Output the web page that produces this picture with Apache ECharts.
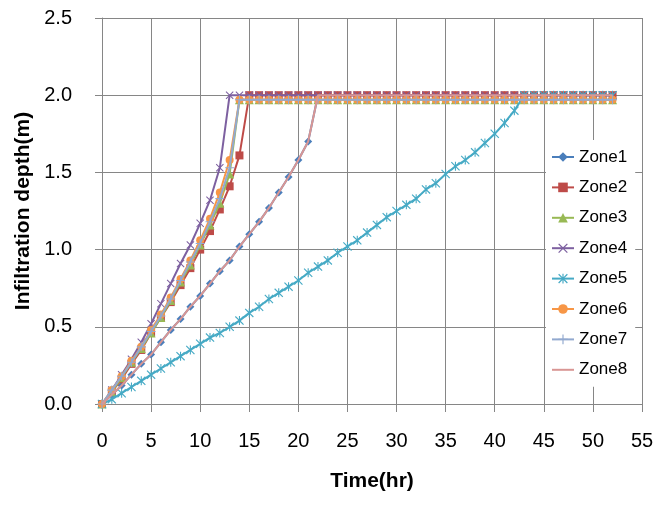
<!DOCTYPE html>
<html>
<head>
<meta charset="utf-8">
<script src="https://cdn.jsdelivr.net/npm/echarts@6/dist/echarts.min.js"></script>
<style>
html,body{margin:0;padding:0;background:#fff;}
#chart{width:671px;height:505px;}
</style>
</head>
<body>
<div id="chart"></div>
<script>
// Time (hr)
var time = [0,1,2,3,4,5,6,7,8,9,10,11,12,13,14,15,16,17,18,19,20,21,22,23,24,25,26,27,28,29,30,31,32,33,34,35,36,37,38,39,40,41,42,43,44,45,46,47,48,49,50,51,52];

var zoneNames = ['Zone1','Zone2','Zone3','Zone4','Zone5','Zone6','Zone7','Zone8'];

var zone1 = [0,0.06,0.12,0.19,0.26,0.32,0.40,0.48,0.55,0.63,0.70,0.78,0.86,0.93,1.02,1.10,1.18,1.27,1.37,1.47,1.58,1.70,2.0,2.0,2.0,2.0,2.0,2.0,2.0,2.0,2.0,2.0,2.0,2.0,2.0,2.0,2.0,2.0,2.0,2.0,2.0,2.0,2.0,2.0,2.0,2.0,2.0,2.0,2.0,2.0,2.0,2.0,2.0];
var zone2 = [0,0.08,0.16,0.26,0.35,0.46,0.56,0.66,0.77,0.88,1.00,1.12,1.26,1.41,1.61,2.0,2.0,2.0,2.0,2.0,2.0,2.0,2.0,2.0,2.0,2.0,2.0,2.0,2.0,2.0,2.0,2.0,2.0,2.0,2.0,2.0,2.0,2.0,2.0,2.0,2.0,2.0,2.0,2.0,2.0,2.0,2.0,2.0,2.0,2.0,2.0,2.0,2.0];
var zone3 = [0,0.08,0.17,0.27,0.36,0.46,0.56,0.67,0.79,0.90,1.03,1.16,1.30,1.49,1.97,1.97,1.97,1.97,1.97,1.97,1.97,1.97,1.97,1.97,1.97,1.97,1.97,1.97,1.97,1.97,1.97,1.97,1.97,1.97,1.97,1.97,1.97,1.97,1.97,1.97,1.97,1.97,1.97,1.97,1.97,1.97,1.97,1.97,1.97,1.97,1.97,1.97,1.97];
var zone4 = [0,0.09,0.19,0.29,0.40,0.52,0.65,0.78,0.91,1.03,1.17,1.32,1.53,2.0,2.0,2.0,2.0,2.0,2.0,2.0,2.0,2.0,2.0,2.0,2.0,2.0,2.0,2.0,2.0,2.0,2.0,2.0,2.0,2.0,2.0,2.0,2.0,2.0,2.0,2.0,2.0,2.0,2.0,2.0,2.0,2.0,2.0,2.0,2.0,2.0,2.0,2.0,2.0];
var zone5 = [0,0.03,0.07,0.11,0.15,0.19,0.23,0.27,0.31,0.35,0.39,0.43,0.46,0.50,0.54,0.59,0.63,0.68,0.72,0.76,0.80,0.85,0.89,0.93,0.98,1.02,1.06,1.11,1.16,1.21,1.25,1.29,1.33,1.39,1.43,1.49,1.54,1.58,1.63,1.69,1.75,1.82,1.90,2.0,2.0,2.0,2.0,2.0,2.0,2.0,2.0,2.0,2.0];
var zone6 = [0,0.09,0.18,0.28,0.37,0.48,0.58,0.69,0.81,0.93,1.06,1.20,1.37,1.58,1.97,1.97,1.97,1.97,1.97,1.97,1.97,1.97,1.97,1.97,1.97,1.97,1.97,1.97,1.97,1.97,1.97,1.97,1.97,1.97,1.97,1.97,1.97,1.97,1.97,1.97,1.97,1.97,1.97,1.97,1.97,1.97,1.97,1.97,1.97,1.97,1.97,1.97,1.97];
var zone7 = [0,0.09,0.18,0.27,0.37,0.47,0.57,0.68,0.80,0.92,1.04,1.18,1.33,1.53,1.97,1.97,1.97,1.97,1.97,1.97,1.97,1.97,1.97,1.97,1.97,1.97,1.97,1.97,1.97,1.97,1.97,1.97,1.97,1.97,1.97,1.97,1.97,1.97,1.97,1.97,1.97,1.97,1.97,1.97,1.97,1.97,1.97,1.97,1.97,1.97,1.97,1.97,1.97];
var zone8 = [0,0.06,0.12,0.19,0.26,0.32,0.40,0.48,0.55,0.63,0.70,0.78,0.86,0.93,1.02,1.10,1.18,1.27,1.37,1.47,1.58,1.70,2.0,2.0,2.0,2.0,2.0,2.0,2.0,2.0,2.0,2.0,2.0,2.0,2.0,2.0,2.0,2.0,2.0,2.0,2.0,2.0,2.0,2.0,2.0,2.0,2.0,2.0,2.0,2.0,2.0,2.0,2.0];

var xTicks = [0,5,10,15,20,25,30,35,40,45,50,55];
var yTicks = [0.0,0.5,1.0,1.5,2.0,2.5];

var zoneValues = [zone1,zone2,zone3,zone4,zone5,zone6,zone7,zone8];
var colors = ['#4A7EBB','#BE4B48','#98B954','#7D60A0','#46AAC5','#F79646','#92A9CF','#D99694'];

var X_SYM = 'path://M0,0.9L0.9,0L5,4.1L9.1,0L10,0.9L5.9,5L10,9.1L9.1,10L5,5.9L0.9,10L0,9.1L4.1,5Z';
var PLUS_SYM = 'path://M4.4,0H5.6V4.4H10V5.6H5.6V10H4.4V5.6H0V4.4H4.4Z';
var AST_SYM = 'path://M0,0.9L0.9,0L5,4.1L9.1,0L10,0.9L5.9,5L10,9.1L9.1,10L5,5.9L0.9,10L0,9.1L4.1,5Z M4.4,0H5.6V10H4.4Z';
var LINE_ICON = 'path://M0,5H22V7H0Z';
var symbols = ['diamond','rect','triangle',X_SYM,AST_SYM,'circle',PLUS_SYM,'none'];
var symbolSizes = [8,8,9,8,9,8,9,0];

function pairs(vals){
  var out = [];
  for (var i = 0; i < time.length; i++) out.push([time[i], vals[i]]);
  return out;
}

var series = zoneNames.map(function(name, i){
  return {
    name: name,
    type: 'line',
    data: pairs(zoneValues[i]),
    symbol: symbols[i],
    symbolSize: symbolSizes[i],
    showSymbol: symbols[i] !== 'none',
    lineStyle: {color: colors[i], width: 2},
    itemStyle: {color: colors[i], borderColor: colors[i], borderWidth: 0},
    emphasis: {disabled: true},
    animation: false,
    z: 2 + i
  };
});

var legendData = zoneNames.map(function(name, i){
  if (symbols[i] === 'none') {
    return {name: name, icon: LINE_ICON, itemStyle: {color: colors[i]}};
  }
  return {name: name};
});

var gridColor = '#868686';
var chart = echarts.init(document.getElementById('chart'), null, {renderer: 'canvas'});
chart.setOption({
  backgroundColor: '#ffffff',
  animation: false,
  textStyle: {fontFamily: 'Liberation Sans'},
  grid: {left: 102, top: 18, width: 540, height: 386, containLabel: false},
  xAxis: {
    type: 'value',
    min: xTicks[0], max: xTicks[xTicks.length - 1], interval: 5,
    name: 'Time(hr)', nameLocation: 'middle', nameGap: 67,
    nameTextStyle: {fontSize: 21, fontWeight: 'bold', color: '#000', fontFamily: 'Liberation Sans'},
    axisLine: {show: true, lineStyle: {color: gridColor, width: 1}},
    axisTick: {show: true, length: 8, lineStyle: {color: gridColor}},
    axisLabel: {fontSize: 20, color: '#000', margin: 27, fontFamily: 'Liberation Sans'},
    splitLine: {show: true, lineStyle: {color: gridColor, width: 1}}
  },
  yAxis: {
    type: 'value',
    min: yTicks[0], max: yTicks[yTicks.length - 1], interval: 0.5,
    name: 'Infiltration depth(m)', nameLocation: 'middle', nameGap: 65,
    nameTextStyle: {fontSize: 21, fontWeight: 'bold', color: '#000', fontFamily: 'Liberation Sans'},
    axisLine: {show: true, lineStyle: {color: gridColor, width: 1}},
    axisTick: {show: true, length: 7, lineStyle: {color: gridColor}},
    axisLabel: {fontSize: 20, color: '#000', margin: 30, fontFamily: 'Liberation Sans',
      formatter: function(v){ return v.toFixed(1); }},
    splitLine: {show: true, lineStyle: {color: gridColor, width: 1}}
  },
  legend: {
    orient: 'vertical',
    left: 546, top: 140,
    backgroundColor: '#ffffff',
    padding: [8, 8, 8, 5],
    itemWidth: 22, itemHeight: 12,
    itemGap: 12.4,
    textStyle: {fontSize: 17, color: '#000', lineHeight: 18, fontFamily: 'Liberation Sans'},
    data: legendData
  },
  series: series
});
</script>
</body>
</html>
